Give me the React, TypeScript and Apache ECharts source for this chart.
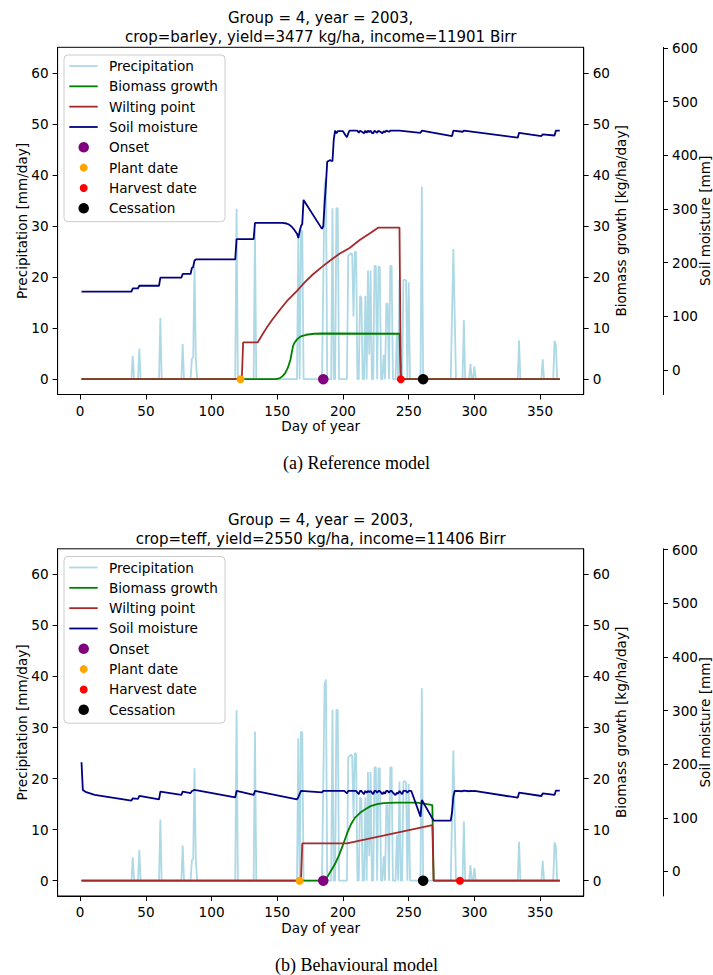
import React, { useEffect, useRef } from "react";
import * as echarts from "echarts";

// ---- page & layout ----
const W = 713;
const H = 975;
const PANEL_SHIFT = 501.5;
const GRID_LEFT = 57.6;
const GRID_TOP = 47.3;
const GRID_W = 526.1;
const GRID_H = 347.2;
const FONT = "DejaVu Sans";
const FS = 13.6;

// ---- axes ----
const dayTicks = [0, 50, 100, 150, 200, 250, 300, 350];
const rateTicks = [0, 10, 20, 30, 40, 50, 60];
const soilTicks = [0, 100, 200, 300, 400, 500, 600];

// ---- daily precipitation [day, mm/day] (same weather in both runs) ----
const precipitation: [number, number][] = [
  [1, 0], [39, 0], [40, 4.6], [41, 0], [44, 0], [45, 6.0], [46, 0], [60, 0], [61, 12.0], [62, 0],
  [77, 0], [78, 6.9], [79, 0], [84, 0], [85, 4.0], [86, 4.2], [87, 22.0], [88, 4.0], [89, 0],
  [118, 0], [119, 33.4], [120, 0], [132, 0], [133, 29.2], [134, 0],
  [165, 0], [166, 27.9], [167, 0], [168, 29.2], [169, 29.0], [170, 0],
  [184, 0], [185, 19.0], [186, 38.2], [187, 39.4], [188, 0], [191, 0], [192, 33.5], [193, 0],
  [194, 0], [195, 33.5], [196, 33.4], [197, 0], [203, 0],
  [204, 24.2], [205, 24.4], [206, 24.7], [207, 24.4], [208, 12.3], [209, 25.0], [210, 24.8],
  [211, 0], [212, 0], [213, 16.3], [214, 16.0], [215, 0], [216, 0], [217, 16.3], [218, 0],
  [219, 21.3], [220, 4.8], [221, 21.3], [222, 0], [223, 0], [224, 22.2], [225, 22.2], [226, 0],
  [227, 22.0], [228, 22.0], [229, 0], [230, 0], [231, 4.8], [232, 0], [233, 14.8], [234, 14.8],
  [235, 0], [236, 22.2], [237, 22.2], [238, 0], [239, 0], [240, 0], [241, 9.0], [242, 0],
  [243, 19.4], [244, 0], [245, 0], [246, 19.4], [247, 19.5], [248, 19.3], [249, 0], [250, 19.0],
  [251, 0], [259, 0], [260, 37.7], [261, 0], [282, 0], [283, 12.7], [284, 25.5], [285, 12.7],
  [286, 0], [291, 0], [292, 11.6], [293, 0], [296, 0], [297, 3.0], [298, 0], [299, 0], [300, 2.5],
  [301, 0], [333, 0], [334, 7.6], [335, 0], [351, 0], [352, 3.9], [353, 0], [360, 0], [361, 7.5],
  [362, 6.8], [363, 0], [365, 0],
];

// ---- reference model (barley) ----
const biomassRef: [number, number][] = [
  [1, 0], [149, 0], [152, 0.2], [154, 0.6], [156, 1.2], [158, 2.2], [159, 3.0], [160, 3.8],
  [161, 5.2], [162, 6.5], [163, 7.1], [165, 7.8], [168, 8.4], [172, 8.7], [178, 8.9],
  [185, 8.95], [243, 8.9], [244, 0], [365, 0],
];
const wiltingRef: [number, number][] = [
  [1, 0], [123, 0], [124, 7.2], [135, 7.2], [137, 8.0], [139, 8.9], [142, 10.1], [146, 11.6],
  [152, 13.6], [158, 15.5], [165, 17.3], [171, 19.0], [177, 20.5], [184, 22.0], [190, 23.2],
  [197, 24.5], [205, 25.7], [213, 27.3], [220, 28.5], [227, 29.7], [243, 29.7], [244, 0], [365, 0],
];
const soilRef: [number, number][] = [
  [1, 146], [39, 146], [40, 152], [44, 152], [45, 157], [60, 157], [61, 172], [77, 172],
  [78, 179], [84, 179], [85, 190], [86, 192], [87, 204], [88, 206], [118, 206], [119, 244],
  [132, 244], [133, 274], [154, 274], [157, 273], [159, 271], [161, 267], [163, 261], [165, 254],
  [166, 246], [167, 258], [168, 268], [169, 272], [170, 317], [184, 263], [185, 268], [186, 310],
  [187, 345], [188, 388], [190, 391], [192, 389], [193, 430], [194, 446], [195, 441], [196, 445],
  [200, 445], [202, 437], [203, 434], [204, 441], [205, 446], [211, 446], [212, 442], [213, 446],
  [215, 443], [216, 441], [217, 446], [218, 442], [219, 446], [220, 443], [221, 446], [222, 442],
  [223, 441], [224, 446], [226, 442], [227, 446], [229, 443], [230, 441], [231, 445], [232, 443],
  [233, 446], [235, 444], [236, 446], [243, 446], [259, 442], [260, 446], [283, 436], [284, 446],
  [291, 444], [292, 446], [333, 433], [334, 442], [351, 436], [352, 439], [361, 437], [362, 446],
  [365, 446],
];
const eventDaysRef = [185, 122, 244, 261];

// ---- behavioural model (teff) ----
const biomassBeh: [number, number][] = [
  [1, 0], [185, 0], [188, 0.7], [191, 2.0], [194, 3.3], [197, 5.0], [200, 7.0], [203, 9.2],
  [206, 11.0], [209, 12.3], [213, 13.3], [217, 14.0], [221, 14.6], [226, 15.0], [231, 15.2],
  [240, 15.3], [256, 15.3], [262, 15.1], [268, 14.8], [269, 0], [365, 0],
];
const wiltingBeh: [number, number][] = [
  [1, 0], [168, 0], [169, 7.3], [203, 7.3], [268, 10.9], [269, 0], [365, 0],
];
const soilBeh: [number, number][] = [
  [1, 203.5], [2, 152], [4, 148.5], [11, 142.6], [39, 132], [40, 136.4], [44, 135.5], [45, 140.7],
  [60, 134.5], [61, 148.8], [77, 142.6], [78, 148.8], [84, 146], [85, 150], [87, 152], [88, 151.5],
  [118, 138.2], [119, 150.1], [132, 142.6], [133, 150.1], [165, 134.5], [166, 138.5], [168, 150.1],
  [184, 147.5], [185, 150.1], [201, 150.1], [203, 145.5], [204, 150.1], [210, 150.1], [211, 147],
  [212, 144], [213, 150.1], [214, 150], [215, 147], [216, 144], [217, 150.1], [218, 147],
  [219, 150.1], [220, 148], [221, 150.1], [222, 147], [223, 144], [224, 150.1], [225, 150.1],
  [226, 147], [227, 150.1], [228, 150.1], [229, 147], [230, 144], [231, 148], [232, 145],
  [233, 150.1], [234, 150.1], [235, 147], [236, 150.1], [237, 150.1], [238, 147], [239, 144.5],
  [240, 142.5], [241, 147], [242, 145], [243, 150.1], [244, 147], [245, 144], [246, 150.1],
  [248, 150.1], [249, 147], [250, 150.1], [252, 150.1], [259, 102.2], [260, 133.2], [269, 94.7],
  [282, 94.7], [283, 110], [284, 140], [285, 150.1], [291, 149.5], [292, 150.6], [296, 149.5],
  [297, 150.3], [299, 149.8], [300, 150.4], [333, 137.5], [334, 146.9], [351, 140.7],
  [352, 145.7], [361, 142.6], [362, 150.6], [365, 150.6],
];
const eventDaysBeh = [185, 167, 289, 261];

// ---- labels ----
const eventNames = ["Onset", "Plant date", "Harvest date", "Cessation"];
const eventColors = ["#800080", "#ffa500", "#ff0000", "#000000"];
const eventSizes = [10.5, 8, 8, 10.5];
const lineNames = ["Precipitation", "Biomass growth", "Wilting point", "Soil moisture"];
const lineColors = ["#add8e6", "#008000", "#a52a2a", "#000080"];

const panels = [
  {
    title: ["Group = 4, year = 2003,", "crop=barley, yield=3477 kg/ha, income=11901 Birr"],
    caption: "(a) Reference model",
    biomass: biomassRef,
    wilting: wiltingRef,
    soil: soilRef,
    events: eventDaysRef,
  },
  {
    title: ["Group = 4, year = 2003,", "crop=teff, yield=2550 kg/ha, income=11406 Birr"],
    caption: "(b) Behavioural model",
    biomass: biomassBeh,
    wilting: wiltingBeh,
    soil: soilBeh,
    events: eventDaysBeh,
  },
];

const axisText = { color: "#000", fontFamily: FONT, fontSize: FS };
const blackLine = { show: true, onZero: false, lineStyle: { color: "#000", width: 1 } };

function valueAxisY(gridIndex: number, position: string, min: number, max: number, ticks: number[], offset = 0) {
  return {
    type: "value",
    gridIndex,
    position,
    offset,
    min,
    max,
    axisLine: blackLine,
    axisTick: { show: true, length: 5, lineStyle: { color: "#000", width: 1 }, customValues: ticks },
    axisLabel: { ...axisText, margin: 9, customValues: ticks },
    splitLine: { show: false },
  };
}

function text(x: number, y: number, s: string, size: number, extra: any = {}) {
  const { fontFamily, ...rest } = extra;
  return {
    type: "text",
    x,
    y,
    z: 100,
    ...rest,
    style: {
      text: s,
      fill: "#000",
      fontFamily: fontFamily || FONT,
      fontSize: size,
      textAlign: "center",
      textVerticalAlign: "middle",
    },
  };
}

function legend(top: number) {
  const rowH = 20.33;
  const children: any[] = [
    {
      type: "rect",
      shape: { x: 0, y: 0, width: 161, height: 166.7, r: 4 },
      style: { fill: "rgba(255,255,255,0.8)", stroke: "#cccccc", lineWidth: 1 },
    },
  ];
  lineNames.forEach((name, i) => {
    const y = 11 + i * rowH;
    children.push({
      type: "line",
      shape: { x1: 5.3, y1: y, x2: 33.7, y2: y },
      style: { stroke: lineColors[i], lineWidth: 1.8 },
    });
    children.push({
      type: "text",
      x: 45,
      y,
      style: { text: name, fill: "#000", fontFamily: FONT, fontSize: FS, textAlign: "left", textVerticalAlign: "middle" },
    });
  });
  eventNames.forEach((name, i) => {
    const y = 11 + (i + 4) * rowH;
    children.push({
      type: "circle",
      shape: { cx: 19.7, cy: y, r: eventSizes[i] / 2 },
      style: { fill: eventColors[i] },
    });
    children.push({
      type: "text",
      x: 45,
      y,
      style: { text: name, fill: "#000", fontFamily: FONT, fontSize: FS, textAlign: "left", textVerticalAlign: "middle" },
    });
  });
  return { type: "group", x: 64, y: top, z: 100, children };
}

function buildOption() {
  const grid: any[] = [];
  const xAxis: any[] = [];
  const yAxis: any[] = [];
  const series: any[] = [];
  const graphic: any[] = [];

  panels.forEach((p, k) => {
    const off = k * PANEL_SHIFT;
    const top = GRID_TOP + off;
    const cx = GRID_LEFT + GRID_W / 2;
    const cy = top + GRID_H / 2;

    grid.push({
      left: GRID_LEFT,
      top,
      width: GRID_W,
      height: GRID_H,
      show: true,
      borderColor: "#000",
      borderWidth: 1,
      backgroundColor: "transparent",
    });
    xAxis.push({
      type: "value",
      gridIndex: k,
      min: -17.2,
      max: 383.2,
      axisLine: blackLine,
      axisTick: { show: true, length: 5, lineStyle: { color: "#000", width: 1 }, customValues: dayTicks },
      axisLabel: { ...axisText, margin: 9, customValues: dayTicks },
      splitLine: { show: false },
    });
    yAxis.push(valueAxisY(k, "left", -3, 65, rateTicks));
    yAxis.push(valueAxisY(k, "right", -3, 65, rateTicks));
    yAxis.push(valueAxisY(k, "right", -45.7, 601.4, soilTicks, 79.3));

    const lines: [string, [number, number][], number, string][] = [
      [lineNames[0], precipitation, 3 * k, lineColors[0]],
      [lineNames[1], p.biomass, 3 * k + 1, lineColors[1]],
      [lineNames[2], p.wilting, 3 * k + 1, lineColors[2]],
      [lineNames[3], p.soil, 3 * k + 2, lineColors[3]],
    ];
    lines.forEach(([name, data, yi, color], i) => {
      series.push({
        type: "line",
        name,
        xAxisIndex: k,
        yAxisIndex: yi,
        data,
        symbol: "none",
        showSymbol: false,
        silent: true,
        z: 2 + i * 0.1,
        lineStyle: { color, width: 1.8 },
        itemStyle: { color },
      });
    });
    eventNames.forEach((name, i) => {
      series.push({
        type: "scatter",
        name,
        xAxisIndex: k,
        yAxisIndex: 3 * k,
        data: [[p.events[i], 0]],
        symbol: "circle",
        symbolSize: eventSizes[i],
        silent: true,
        z: 5,
        itemStyle: { color: eventColors[i], opacity: 1 },
      });
    });

    graphic.push(text(cx, 18 + off, p.title[0], 15));
    graphic.push(text(cx, 37 + off, p.title[1], 15));
    graphic.push(text(cx, 426 + off, "Day of year", FS));
    graphic.push(text(22, cy, "Precipitation [mm/day]", FS, { rotation: Math.PI / 2 }));
    graphic.push(text(621, cy, "Biomass growth [kg/ha/day]", FS, { rotation: Math.PI / 2 }));
    graphic.push(text(705, cy, "Soil moisture [mm]", FS, { rotation: Math.PI / 2 }));
    graphic.push(text(W / 2, 463 + off, p.caption, 18, { fontFamily: "Liberation Serif" }));
    graphic.push(legend(55 + off));
  });

  return {
    animation: false,
    backgroundColor: "#fff",
    grid,
    xAxis,
    yAxis,
    series,
    graphic,
  };
}

export default function App() {
  const ref = useRef<HTMLDivElement>(null);
  useEffect(() => {
    if (!ref.current) return;
    const chart = echarts.init(ref.current, null, { renderer: "svg" });
    chart.setOption(buildOption() as any);
    return () => chart.dispose();
  }, []);
  return (
    <div
      ref={ref}
      style={{ position: "absolute", left: 0, top: 0, width: W, height: H, background: "#fff" }}
    />
  );
}
